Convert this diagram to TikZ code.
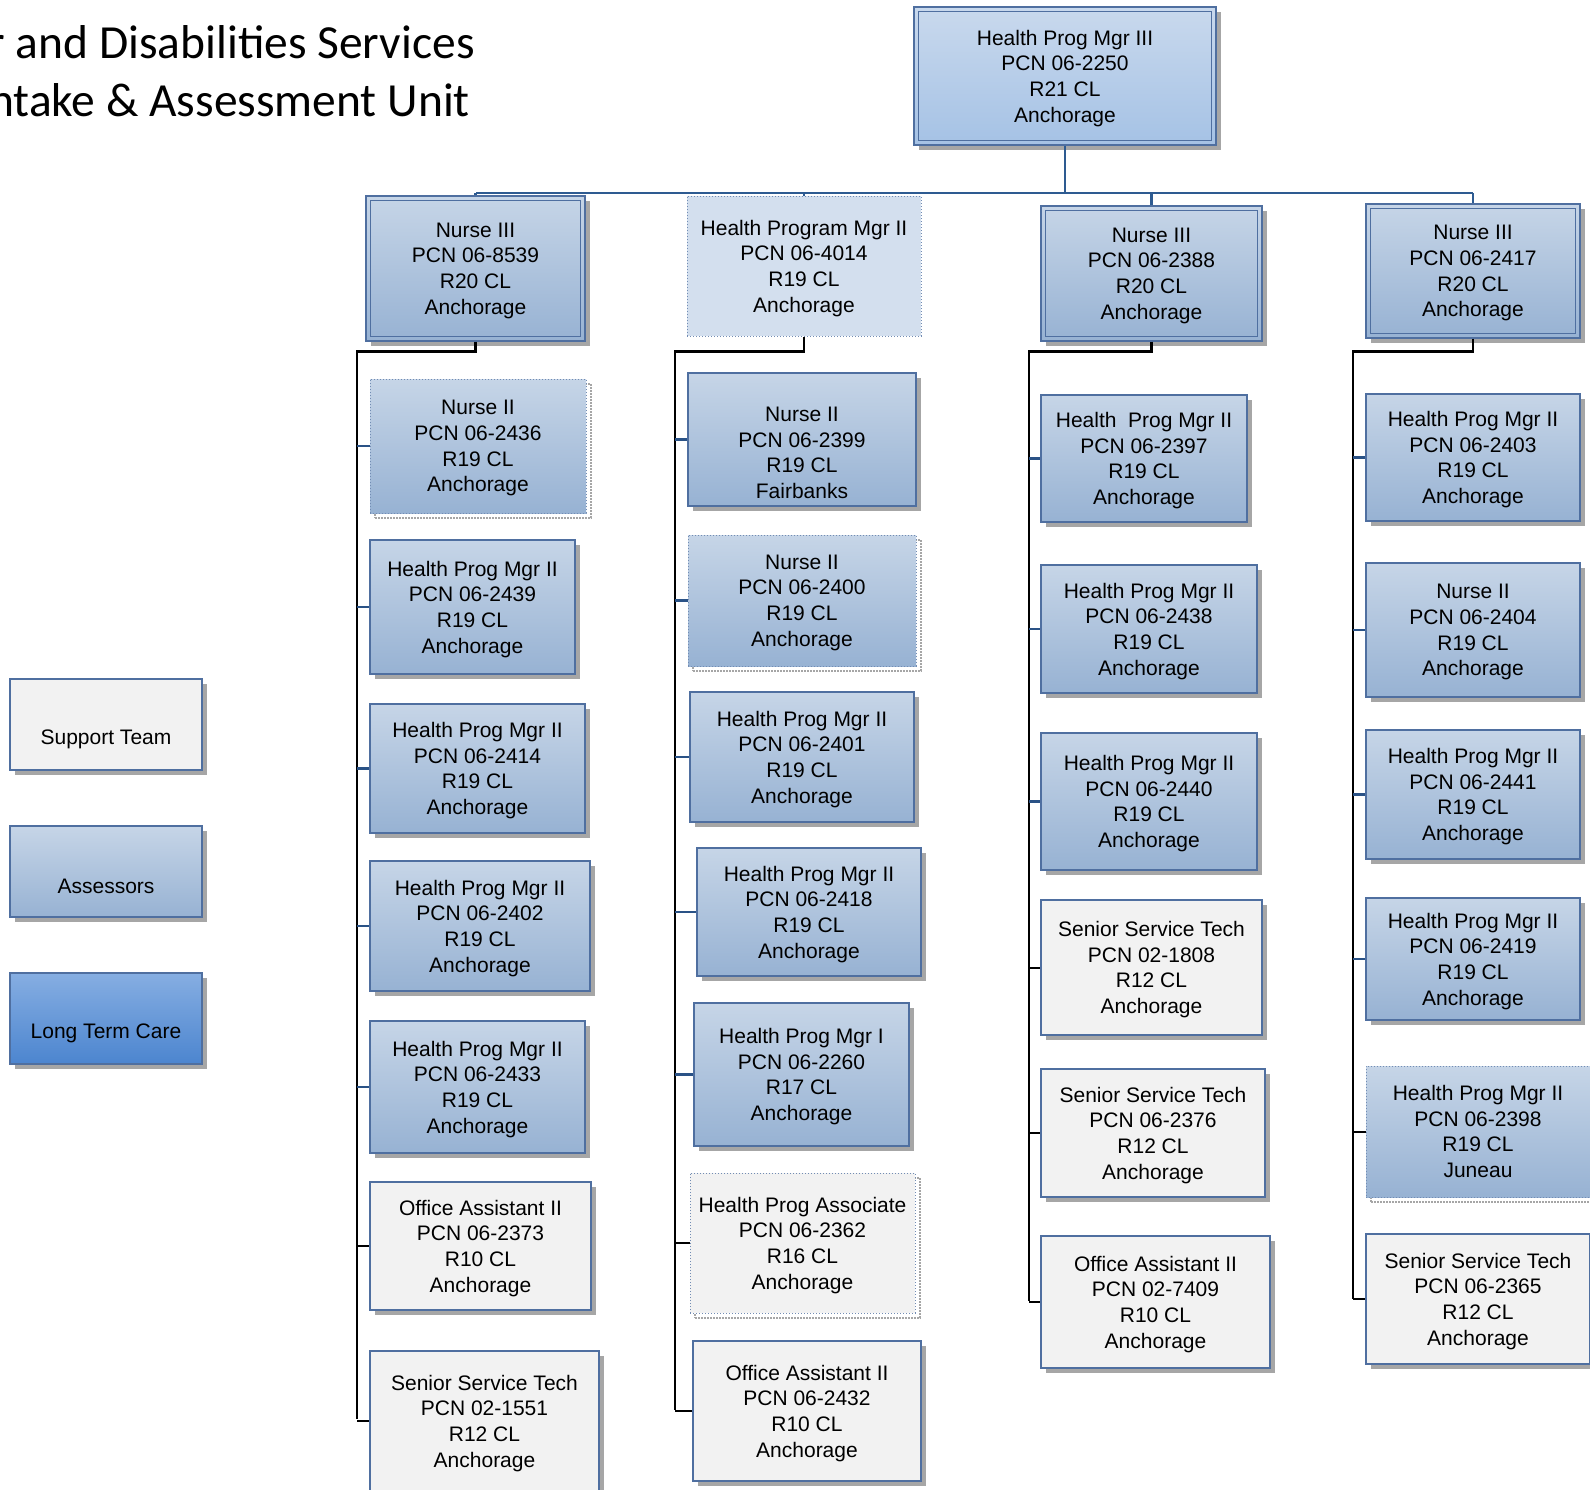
\documentclass[tikz,border=0pt]{standalone}
\usepackage{fontspec}
\setmainfont{Liberation Sans}
\newfontfamily\titlefont{Carlito}
\usetikzlibrary{shadows,positioning}

\definecolor{posline}{HTML}{4F6FA0}
\definecolor{blueTop}{HTML}{C6D5E7}
\definecolor{blueBot}{HTML}{97B2D3}
\definecolor{dirTop}{HTML}{C9D9ED}
\definecolor{dirBot}{HTML}{A5C2E5}
\definecolor{vacFill}{HTML}{D3DFEE}
\definecolor{supFill}{HTML}{F2F2F2}
\definecolor{ltcTop}{HTML}{86AEE2}
\definecolor{ltcBot}{HTML}{4C85CF}
\definecolor{shade}{HTML}{A6A6A6}
\definecolor{busblue}{HTML}{2E5B91}
\definecolor{tickblue}{HTML}{2A5286}

\begin{document}
\begin{tikzpicture}[x=1pt, y=-1pt,
    postext/.style={font=\fontsize{21}{25.7}\selectfont, align=center, inner sep=0pt},
    posbox/.style={postext, text depth=0pt, draw=posline, line width=1.2pt,
        drop shadow={shadow xshift=5pt, shadow yshift=-5pt, fill=shade, opacity=1}},
    assessor/.style={posbox, top color=blueTop, bottom color=blueBot},
    support/.style={posbox, fill=supFill},
    director/.style={posbox, top color=dirTop, bottom color=dirBot},
    vacant/.style={postext, text depth=0pt, draw=posline!80, dotted, line width=1pt,
        drop shadow={shadow xshift=5pt, shadow yshift=-5pt, fill=none, draw=shade, densely dotted, line width=2pt, opacity=1}},
    vacantblue/.style={vacant, top color=blueTop, bottom color=blueBot},
    vacantgray/.style={vacant, fill=supFill},
    innerline/.style={draw=posline, line width=1.2pt},
    bus/.style={draw=busblue, line width=2.8pt},
    trunk/.style={draw=black, line width=2.6pt},
    tickb/.style={draw=tickblue, line width=2.4pt},
    tickk/.style={draw=black, line width=2pt},
    titletext/.style={font=\titlefont\fontsize{47.5}{58}\selectfont, inner sep=0pt}]

    \useasboundingbox (0,0) rectangle (1590,1489);

    % Title
    \node[titletext, anchor=base east] (titleA) at (475,58) {r and Disabilities Services};
    \node[titletext, anchor=base east] (titleB) at (470,116) {ntake \& Assessment Unit};

    % Legend
    \draw[support] (10,679) rectangle (202,770);
    \node[postext] (lgSupport) at (106,739) {Support Team};
    \draw[assessor] (10,826) rectangle (202,917);
    \node[postext] (lgAssess) at (106,886) {Assessors};
    \draw[posbox, top color=ltcTop, bottom color=ltcBot] (10,973) rectangle (202,1064);
    \node[postext] (lgLtc) at (106,1033) {Long Term Care};

    % Director
    \node[director, text depth=-4pt, minimum width=302pt, minimum height=138pt] (p2250) at (1065,76)
        {Health Prog Mgr III\\PCN 06-2250\\R21 CL\\Anchorage};
    \draw[innerline] ([xshift=5pt,yshift=-5pt]p2250.north west) rectangle ([xshift=-5pt,yshift=5pt]p2250.south east);

    % Unit leads
    \node[assessor, minimum width=219pt, minimum height=145pt] (p8539) at (475.5,268.5)
        {Nurse III\\PCN 06-8539\\R20 CL\\Anchorage};
    \draw[innerline] ([xshift=5pt,yshift=-5pt]p8539.north west) rectangle ([xshift=-5pt,yshift=5pt]p8539.south east);
    \node[postext, text depth=0pt, draw=posline!80, dotted, line width=1pt, fill=vacFill, minimum width=234pt, minimum height=140pt] (p4014) at (804,266)
        {Health Program Mgr II\\PCN 06-4014\\R19 CL\\Anchorage};
    \node[assessor, minimum width=221pt, minimum height=135pt] (p2388) at (1151.5,273.5)
        {Nurse III\\PCN 06-2388\\R20 CL\\Anchorage};
    \draw[innerline] ([xshift=5pt,yshift=-5pt]p2388.north west) rectangle ([xshift=-5pt,yshift=5pt]p2388.south east);
    \node[assessor, minimum width=214pt, minimum height=134pt] (p2417) at (1473,271)
        {Nurse III\\PCN 06-2417\\R20 CL\\Anchorage};
    \draw[innerline] ([xshift=5pt,yshift=-5pt]p2417.north west) rectangle ([xshift=-5pt,yshift=5pt]p2417.south east);

    % Bus
    \coordinate (busL) at (476,193);
    \coordinate (busR) at (1473,193);
    \draw[bus] (p2250.south) -- (p2250.south |- busL);
    \draw[bus] (busL) -- (busR);
    \draw[bus] (p8539.north |- busL) -- (p8539.north);
    \draw[bus] (p4014.north |- busL) -- (p4014.north);
    \draw[bus] (p2388.north |- busL) -- (p2388.north);
    \draw[bus] (p2417.north |- busL) -- (p2417.north);

    % Column 1
    \node[vacantblue, minimum width=216pt, minimum height=134pt] (p2436) at (478,446)
        {Nurse II\\PCN 06-2436\\R19 CL\\Anchorage};
    \node[assessor, minimum width=205pt, minimum height=134pt] (p2439) at (472.5,607)
        {Health Prog Mgr II\\PCN 06-2439\\R19 CL\\Anchorage};
    \node[assessor, minimum width=215pt, minimum height=129pt] (p2414) at (477.5,768.5)
        {Health Prog Mgr II\\PCN 06-2414\\R19 CL\\Anchorage};
    \node[assessor, minimum width=220pt, minimum height=130pt] (p2402) at (480,926)
        {Health Prog Mgr II\\PCN 06-2402\\R19 CL\\Anchorage};
    \node[assessor, minimum width=215pt, minimum height=132pt] (p2433) at (477.5,1087)
        {Health Prog Mgr II\\PCN 06-2433\\R19 CL\\Anchorage};
    \node[support, minimum width=221pt, minimum height=128pt] (p2373) at (480.5,1246)
        {Office Assistant II\\PCN 06-2373\\R10 CL\\Anchorage};
    \node[support, minimum width=229pt, minimum height=140pt] (p1551) at (484.5,1421)
        {Senior Service Tech\\PCN 02-1551\\R12 CL\\Anchorage};
    \coordinate (trunkA) at (357,1419);
    \draw[trunk] (p8539.south) -- ++(0,10) -| (trunkA);
    \draw[tickb] (trunkA |- p2436.west) -- (p2436.west);
    \draw[tickb] (trunkA |- p2439.west) -- (p2439.west);
    \draw[tickb] (trunkA |- p2414.west) -- (p2414.west);
    \draw[tickb] (trunkA |- p2402.west) -- (p2402.west);
    \draw[tickb] (trunkA |- p2433.west) -- (p2433.west);
    \draw[tickk] (trunkA |- p2373.west) -- (p2373.west);
    \draw[tickk] (trunkA |- p1551.west) -- (p1551.west);

    % Column 2
    \node[assessor, text height=118pt, minimum width=228pt, minimum height=133pt] (p2399) at (802,439.5)
        {Nurse II\\PCN 06-2399\\R19 CL\\Fairbanks};
    \node[vacantblue, minimum width=228pt, minimum height=131pt] (p2400) at (802,600.5)
        {Nurse II\\PCN 06-2400\\R19 CL\\Anchorage};
    \node[assessor, minimum width=224pt, minimum height=130pt] (p2401) at (802,757)
        {Health Prog Mgr II\\PCN 06-2401\\R19 CL\\Anchorage};
    \node[assessor, minimum width=224pt, minimum height=128pt] (p2418) at (809,912)
        {Health Prog Mgr II\\PCN 06-2418\\R19 CL\\Anchorage};
    \node[assessor, minimum width=215pt, minimum height=143pt] (p2260) at (801.5,1074.5)
        {Health Prog Mgr I\\PCN 06-2260\\R17 CL\\Anchorage};
    \node[vacantgray, minimum width=225pt, minimum height=140pt] (p2362) at (802.5,1243)
        {Health Prog Associate\\PCN 06-2362\\R16 CL\\Anchorage};
    \node[support, minimum width=228pt, minimum height=140pt] (p2432) at (807,1411)
        {Office Assistant II\\PCN 06-2432\\R10 CL\\Anchorage};
    \coordinate (trunkB) at (675,1410);
    \draw[trunk] (p4014.south) -- ++(0,15) -| (trunkB);
    \draw[tickb] (trunkB |- p2399.west) -- (p2399.west);
    \draw[tickb] (trunkB |- p2400.west) -- (p2400.west);
    \draw[tickb] (trunkB |- p2401.west) -- (p2401.west);
    \draw[tickb] (trunkB |- p2418.west) -- (p2418.west);
    \draw[tickb] (trunkB |- p2260.west) -- (p2260.west);
    \draw[tickk] (trunkB |- p2362.west) -- (p2362.west);
    \draw[tickk] (trunkB |- p2432.west) -- (p2432.west);

    % Column 3
    \node[assessor, minimum width=206pt, minimum height=127pt] (p2397) at (1144,458.5)
        {Health\ \ Prog Mgr II\\PCN 06-2397\\R19 CL\\Anchorage};
    \node[assessor, minimum width=216pt, minimum height=128pt] (p2438) at (1149,629)
        {Health Prog Mgr II\\PCN 06-2438\\R19 CL\\Anchorage};
    \node[assessor, minimum width=216pt, minimum height=137pt] (p2440) at (1149,801.5)
        {Health Prog Mgr II\\PCN 06-2440\\R19 CL\\Anchorage};
    \node[support, minimum width=221pt, minimum height=135pt] (p1808) at (1151.5,967.5)
        {Senior Service Tech\\PCN 02-1808\\R12 CL\\Anchorage};
    \node[support, minimum width=224pt, minimum height=128pt] (p2376) at (1153,1133)
        {Senior Service Tech\\PCN 06-2376\\R12 CL\\Anchorage};
    \node[support, minimum width=229pt, minimum height=132pt] (p7409) at (1155.5,1302)
        {Office Assistant II\\PCN 02-7409\\R10 CL\\Anchorage};
    \coordinate (trunkC) at (1029,1301);
    \draw[trunk] (p2388.south) -- ++(0,10) -| (trunkC);
    \draw[tickb] (trunkC |- p2397.west) -- (p2397.west);
    \draw[tickb] (trunkC |- p2438.west) -- (p2438.west);
    \draw[tickb] (trunkC |- p2440.west) -- (p2440.west);
    \draw[tickk] (trunkC |- p1808.west) -- (p1808.west);
    \draw[tickk] (trunkC |- p2376.west) -- (p2376.west);
    \draw[tickk] (trunkC |- p7409.west) -- (p7409.west);

    % Column 4
    \node[assessor, minimum width=214pt, minimum height=127pt] (p2403) at (1473,457.5)
        {Health Prog Mgr II\\PCN 06-2403\\R19 CL\\Anchorage};
    \node[assessor, minimum width=214pt, minimum height=134pt] (p2404) at (1473,630)
        {Nurse II\\PCN 06-2404\\R19 CL\\Anchorage};
    \node[assessor, minimum width=214pt, minimum height=129pt] (p2441) at (1473,794.5)
        {Health Prog Mgr II\\PCN 06-2441\\R19 CL\\Anchorage};
    \node[assessor, minimum width=214pt, minimum height=122pt] (p2419) at (1473,959)
        {Health Prog Mgr II\\PCN 06-2419\\R19 CL\\Anchorage};
    \node[vacantblue, minimum width=224pt, minimum height=131pt] (p2398) at (1478,1131.5)
        {Health Prog Mgr II\\PCN 06-2398\\R19 CL\\Juneau};
    \node[support, minimum width=224pt, minimum height=130pt] (p2365) at (1478,1299)
        {Senior Service Tech\\PCN 06-2365\\R12 CL\\Anchorage};
    \coordinate (trunkD) at (1353,1299);
    \draw[trunk] (p2417.south) -- ++(0,13) -| (trunkD);
    \draw[tickb] (trunkD |- p2403.west) -- (p2403.west);
    \draw[tickb] (trunkD |- p2404.west) -- (p2404.west);
    \draw[tickb] (trunkD |- p2441.west) -- (p2441.west);
    \draw[tickb] (trunkD |- p2419.west) -- (p2419.west);
    \draw[tickk] (trunkD |- p2398.west) -- (p2398.west);
    \draw[tickk] (trunkD |- p2365.west) -- (p2365.west);
\end{tikzpicture}
\end{document}
